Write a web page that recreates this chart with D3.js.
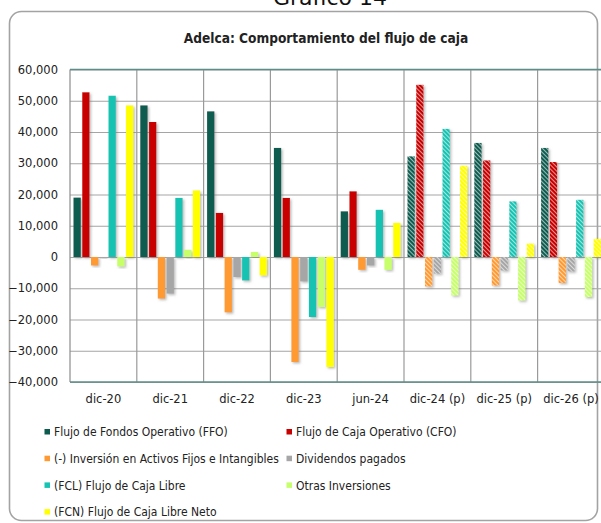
<!DOCTYPE html>
<meta charset="utf-8">
<script src="https://cdn.jsdelivr.net/npm/d3@7"></script>
<body style="margin:0;background:#fff">
<script>
// periods and series, values in thousands of USD
var categories = ["dic-20", "dic-21", "dic-22", "dic-23", "jun-24", "dic-24 (p)", "dic-25 (p)", "dic-26 (p)"];
var projected = ["dic-24 (p)", "dic-25 (p)", "dic-26 (p)"];
var seriesNames = [
  "Flujo de Fondos Operativo (FFO)",
  "Flujo de Caja Operativo (CFO)",
  "(-) Inversión en Activos Fijos e Intangibles",
  "Dividendos pagados",
  "(FCL) Flujo de Caja Libre",
  "Otras Inversiones",
  "(FCN) Flujo de Caja Libre Neto"
];
var seriesColors = ["#0d5b4f", "#c80000", "#ff9a33", "#a6a6a6", "#17c3b2", "#c6ff6b", "#ffff00"];
var ffo        = [19000, 48500, 46600, 34900, 14600, 32200, 36500, 34900];
var cfo        = [52700, 43200, 14100, 18900, 21000, 55100, 30900, 30400];
var inversion  = [-2700, -13300, -17700, -33600, -4100, -9400, -9100, -8300];
var dividendos = [-400, -11700, -6400, -7800, -2700, -5300, -4300, -4600];
var fcl        = [51600, 18900, -7500, -19200, 15100, 41000, 17800, 18300];
var otras      = [-3000, 2300, 1600, -16000, -4100, -12300, -13900, -12800];
var fcn        = [48500, 21300, -5900, -35200, 10900, 29200, 4300, 5800];
var yTicks = d3.range(-40000, 60001, 10000);

var allSeries = [ffo, cfo, inversion, dividendos, fcl, otras, fcn];

var width = 601, height = 523;
var plot = {left: 70, top: 69.5, bottom: 382, step: 66.8};

var svg = d3.select("body").append("svg")
    .attr("width", width)
    .attr("height", height)
    .style("font-family", "'DejaVu Sans', Verdana, sans-serif");

var defs = svg.append("defs");
var shadow = defs.append("filter").attr("id", "shadow")
    .attr("x", "-50%").attr("y", "-10%").attr("width", "200%").attr("height", "130%");
shadow.append("feDropShadow")
    .attr("dx", 1.5).attr("dy", 1.5).attr("stdDeviation", 0.8)
    .attr("flood-color", "#777").attr("flood-opacity", 0.5);

seriesColors.forEach((c, i) => {
  var p = defs.append("pattern")
      .attr("id", "hatch" + i)
      .attr("patternUnits", "userSpaceOnUse")
      .attr("width", 3).attr("height", 3)
      .attr("patternTransform", "rotate(-45)");
  p.append("rect").attr("width", 3).attr("height", 3).attr("fill", c);
  p.append("line").attr("x1", 0).attr("y1", 0).attr("x2", 0).attr("y2", 3)
      .attr("stroke", "#fff").attr("stroke-width", 1.4).attr("stroke-opacity", 0.85);
});

// "Gráfico 14" heading, cut off at the top as in the source page
svg.append("text")
    .attr("x", 330).attr("y", 5)
    .attr("text-anchor", "middle")
    .attr("font-size", 22)
    .attr("fill", "#111")
    .text("Gráfico 14");

// chart frame
svg.append("rect")
    .attr("x", 9.5).attr("y", 11.5)
    .attr("width", 588).attr("height", 509)
    .attr("rx", 12)
    .attr("fill", "#fff")
    .attr("stroke", "#a3a3a3")
    .attr("stroke-width", 1.6);

svg.append("text")
    .attr("x", 326).attr("y", 43)
    .attr("text-anchor", "middle")
    .attr("font-size", 13.6)
    .attr("font-weight", "bold")
    .attr("fill", "#222")
    .style("font-family", "'DejaVu Sans Condensed', 'DejaVu Sans', sans-serif")
    .text("Adelca: Comportamiento del flujo de caja");

var x0 = d3.scaleBand()
    .domain(categories)
    .range([plot.left, plot.left + plot.step * categories.length]);

var x1 = d3.scaleBand()
    .domain(d3.range(seriesNames.length))
    .range([0, x0.bandwidth()])
    .paddingInner(0.17)
    .paddingOuter(0.4);

var y = d3.scaleLinear()
    .domain([-40000, 60000])
    .range([plot.bottom, plot.top]);

// horizontal grid
svg.append("g")
    .attr("transform", `translate(${plot.left},0)`)
    .call(d3.axisLeft(y).tickValues(yTicks).tickSize(-(x0.range()[1] - plot.left)).tickFormat(""))
    .call(g => g.select(".domain").remove())
    .call(g => g.selectAll("line").attr("stroke", "#a5a5a5").attr("stroke-width", 1.2));

// vertical separators between periods
svg.append("g")
  .selectAll("line")
  .data(categories.slice(1))
  .join("line")
    .attr("x1", d => x0(d)).attr("x2", d => x0(d))
    .attr("y1", plot.top).attr("y2", plot.bottom)
    .attr("stroke", "#9a9a9a").attr("stroke-width", 1.2);

// left axis line, top and bottom plot borders
svg.append("line")
    .attr("x1", plot.left).attr("x2", plot.left)
    .attr("y1", plot.top).attr("y2", plot.bottom)
    .attr("stroke", "#8c8c8c").attr("stroke-width", 1.2);
[plot.top, plot.bottom].forEach(v => {
  svg.append("line")
      .attr("x1", plot.left).attr("x2", x0.range()[1])
      .attr("y1", v).attr("y2", v)
      .attr("stroke", "#5e8d89").attr("stroke-width", 1.5);
});

// y labels
svg.append("g")
    .attr("transform", `translate(${plot.left},0)`)
    .call(d3.axisLeft(y).tickValues(yTicks).tickSize(0).tickPadding(12).tickFormat(d3.format(",")))
    .call(g => g.select(".domain").remove())
    .call(g => g.selectAll("text")
        .attr("font-size", 11.5)
        .attr("fill", "#222")
        .style("font-family", "'DejaVu Sans', sans-serif"));

// x labels
svg.append("g")
  .selectAll("text")
  .data(categories)
  .join("text")
    .attr("x", d => x0(d) + x0.bandwidth() / 2)
    .attr("y", 403)
    .attr("text-anchor", "middle")
    .attr("font-size", 11.5)
    .attr("fill", "#222")
    .text(d => d);

// bars
var groups = svg.append("g")
  .selectAll("g")
  .data(categories)
  .join("g")
    .attr("transform", d => `translate(${x0(d)},0)`);

groups.selectAll("rect")
  .data((c, ci) => allSeries.map((s, si) => ({cat: c, si: si, value: s[ci]})))
  .join("rect")
    .attr("x", d => x1(d.si))
    .attr("width", x1.bandwidth())
    .attr("y", d => y(Math.max(0, d.value)))
    .attr("height", d => Math.abs(y(d.value) - y(0)))
    .attr("fill", d => projected.includes(d.cat) ? `url(#hatch${d.si})` : seriesColors[d.si])
    .attr("filter", "url(#shadow)");

// legend, two columns
var legend = svg.append("g")
    .style("font-family", "'DejaVu Sans Condensed', 'DejaVu Sans', sans-serif")
    .attr("font-size", 12)
    .attr("fill", "#222");

var item = legend.selectAll("g")
  .data(seriesNames)
  .join("g")
    .attr("transform", (d, i) => `translate(${i % 2 ? 289 : 47},${432 + Math.floor(i / 2) * 26.7})`);

item.append("rect")
    .attr("x", -2.5).attr("y", -3)
    .attr("width", 5.5).attr("height", 5.5)
    .attr("fill", (d, i) => seriesColors[i]);

item.append("text")
    .attr("x", 7)
    .attr("dy", "0.35em")
    .text(d => d);
</script>
